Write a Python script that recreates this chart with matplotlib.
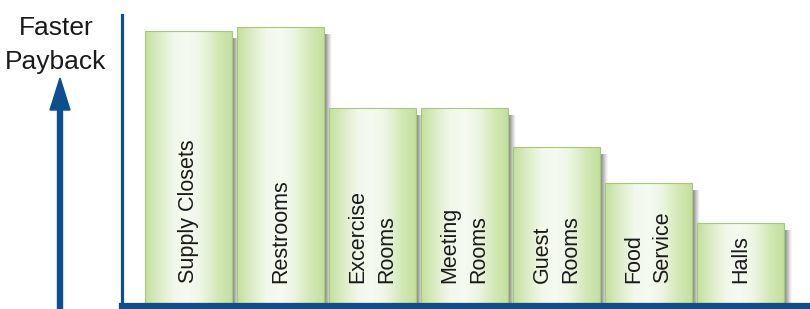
import numpy as np
import matplotlib.pyplot as plt
from matplotlib.colors import LinearSegmentedColormap
from matplotlib.patches import FancyArrow

plt.rcParams['font.family'] = ['Liberation Sans Narrow', 'Liberation Sans', 'DejaVu Sans']

categories = ['Supply Closets', 'Restrooms', 'Excercise\nRooms', 'Meeting\nRooms',
              'Guest\nRooms', 'Food\nService', 'Halls']
payback = [275, 279, 198, 198, 159, 123, 83]

blue = '#0b4f8f'
green_cmap = LinearSegmentedColormap.from_list(
    'bar', ['#c3df9c', '#dcedc6', '#f2f8ea', '#f6faf1', '#ecf5e1', '#d3e9b6', '#c4e09f'])
shadow_cmap = LinearSegmentedColormap.from_list(
    'shadow', ['#7f7f7f', '#a8a8a8', '#dadada', '#ffffff'])

fig = plt.figure(figsize=(8.1, 3.09), dpi=100)
ax = fig.add_axes([122 / 810, 3 / 309, 688 / 810, 291 / 309])

x = np.arange(len(categories))
bars = ax.bar(x, payback, width=0.945, facecolor='none', edgecolor='#9fcd72',
              linewidth=0.8, zorder=4)

px = 1 / 92.0  # one pixel in x data units
grad = np.linspace(0, 1, 256).reshape(1, -1)
for b, label in zip(bars, categories):
    x0, w, h = b.get_x(), b.get_width(), b.get_height()
    # soft shadow on the right side
    ax.imshow(grad, extent=[x0 + w, x0 + w + 7 * px, 0, h - 7], aspect='auto',
              cmap=shadow_cmap, zorder=1, interpolation='bilinear')
    ax.imshow(grad, extent=[x0, x0 + w, 0, h], aspect='auto',
              cmap=green_cmap, zorder=2, interpolation='bilinear')
    ax.text(x0 + w / 2, 23, label, rotation=90, ha='center', va='bottom',
            multialignment='left', fontsize=15.5, color='#1a1a1a', zorder=5,
            linespacing=1.5)

ax.set_xlim(-0.723, 6.755)
ax.set_ylim(0, 291)
ax.set_xticks([])
ax.set_yticks([])
for s in ['top', 'right']:
    ax.spines[s].set_visible(False)
ax.spines['left'].set_color(blue)
ax.spines['left'].set_linewidth(2.3)
ax.spines['bottom'].set_color(blue)
ax.spines['bottom'].set_linewidth(4.5)
ax.spines['bottom'].set_zorder(6)

arrow = FancyArrow(0.60, 0.0, 0, 2.31, width=0.05, head_width=0.2, head_length=0.32,
                   length_includes_head=True, color=blue, transform=fig.dpi_scale_trans)
fig.add_artist(arrow)
fig.text(56 / 810, 1 - 45 / 309, 'Faster\nPayback', ha='center', va='center',
         fontsize=19, color='#1a1a1a', linespacing=1.5)

fig.savefig('out.png', dpi=100)
